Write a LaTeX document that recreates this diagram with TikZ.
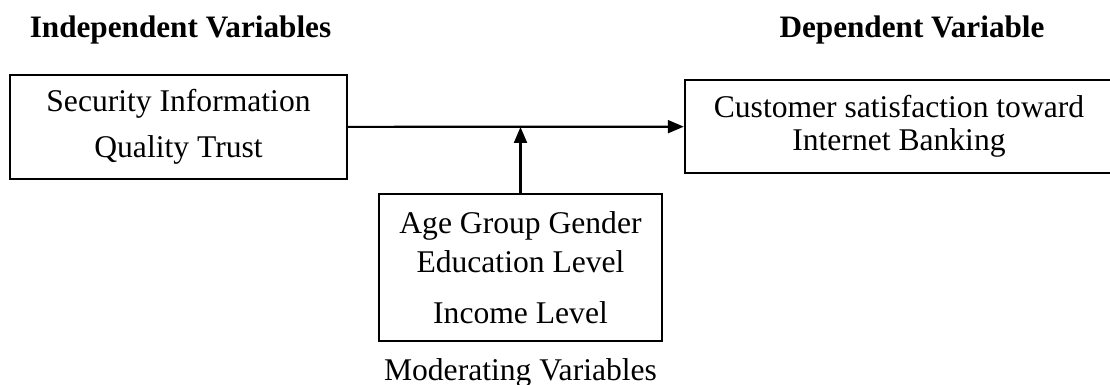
\documentclass[tikz,border=0pt]{standalone}
\usepackage{fontspec}
\setmainfont{Liberation Serif}
\usetikzlibrary{positioning,arrows.meta}

\begin{document}
\begin{tikzpicture}[x=0.5pt,y=-0.5pt,
        var/.style={draw,line width=1.2pt,align=center,inner sep=0pt},
        head/.style={inner sep=0pt,font=\bfseries\fontsize{15.6}{18}\selectfont},
        link/.style={line width=1.1pt,-{Triangle[length=8pt,width=6.5pt]}}]
      \useasboundingbox (0,0) rectangle (1110,385);
      \node[head] (ivhead) at (180.5,29.5) {Independent Variables};
      \node[head] (dvhead) at (912,29.5) {Dependent Variable};
      \node[var,minimum width=168.5pt,minimum height=52pt,
        font=\fontsize{15.8}{23}\selectfont] (indep) at (178.5,127)
        {Security Information\\Quality Trust};
      \node[var,minimum width=214pt,minimum height=46.5pt,
        font=\fontsize{15.8}{16.5}\selectfont] (dep) at (899,126.5)
        {Customer satisfaction toward\\Internet Banking};
      \node[var,minimum width=141.5pt,minimum height=73.5pt,
        font=\fontsize{15.8}{19.5}\selectfont] (moder) at (520.5,267.5)
        {Age Group Gender\\Education Level\\[6pt]Income Level};
      \node[inner sep=0pt,font=\fontsize{15.8}{18}\selectfont] (mvlabel)
        [below=8pt of moder] {Moderating Variables};
      \coordinate (junc) at (moder.north |- indep.east);
      \path[link]
        (indep) edge (dep)
        (moder) edge (junc);
    \end{tikzpicture}
\end{document}
